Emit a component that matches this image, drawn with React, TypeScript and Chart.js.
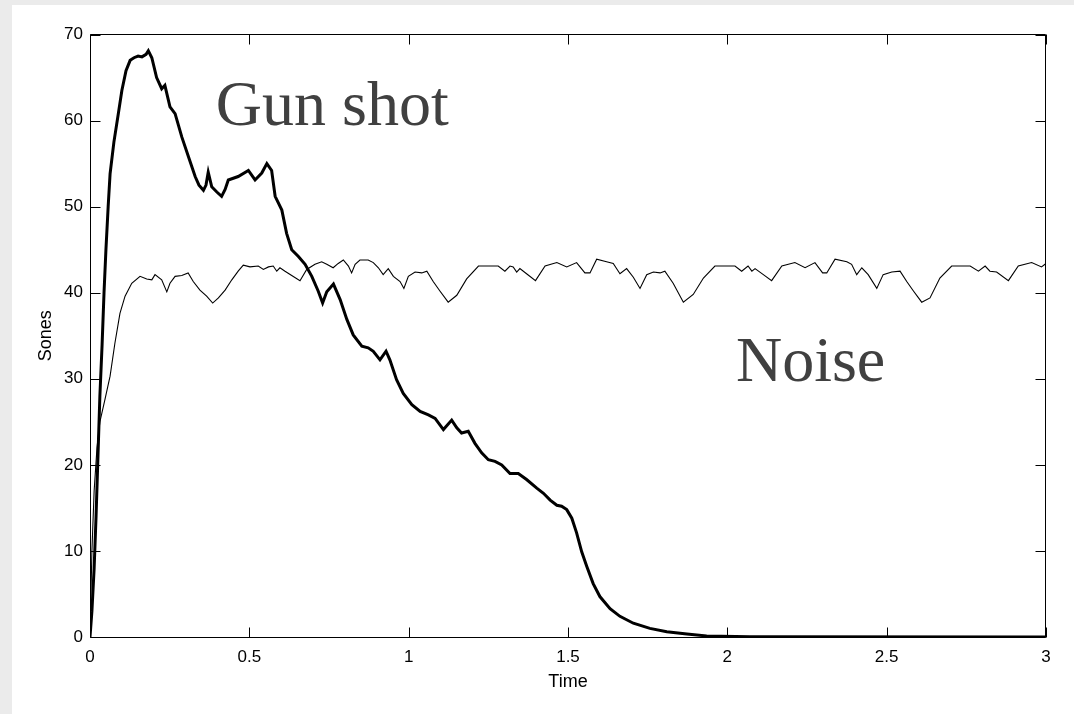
import React, { useEffect, useRef } from "react";
import { Chart, registerables } from "chart.js";

Chart.register(...registerables);

// ---- Data (time in seconds, loudness in sones) ----
const gunTime = [
  0, 0.006, 0.013, 0.019, 0.025, 0.031, 0.038, 0.044, 0.050, 0.057, 0.063, 0.075, 0.088,
  0.100, 0.113, 0.126, 0.138, 0.151, 0.163, 0.176, 0.183, 0.194, 0.209, 0.225, 0.235,
  0.251, 0.267, 0.288, 0.309, 0.330, 0.342, 0.356, 0.364, 0.371, 0.382, 0.398, 0.413,
  0.424, 0.434, 0.465, 0.497, 0.518, 0.539, 0.555, 0.570, 0.581, 0.602, 0.617, 0.633,
  0.654, 0.675, 0.696, 0.716, 0.730, 0.743, 0.764, 0.785, 0.806, 0.826, 0.853, 0.873,
  0.889, 0.910, 0.929, 0.941, 0.962, 0.983, 1.010, 1.036, 1.062, 1.083, 1.109, 1.135,
  1.151, 1.166, 1.187, 1.208, 1.229, 1.250, 1.271, 1.292, 1.318, 1.344, 1.370, 1.402,
  1.423, 1.444, 1.465, 1.480, 1.496, 1.512, 1.527, 1.543, 1.559, 1.579, 1.600, 1.632,
  1.663, 1.705, 1.757, 1.810, 1.873, 1.935, 2.071, 3.0,
];
const gunSones = [
  0, 3, 8, 14, 21, 28, 34, 40, 45, 50, 53.8, 57.5, 60.6,
  63.5, 65.8, 67.0, 67.3, 67.5, 67.4, 67.7, 68.1, 67.3, 65.0, 63.7, 64.1,
  61.6, 60.8, 58.1, 55.8, 53.5, 52.5, 51.9, 52.5, 54.0, 52.3, 51.7, 51.2,
  52.0, 53.1, 53.5, 54.2, 53.1, 53.9, 55.0, 54.2, 51.2, 49.6, 46.9, 45.0,
  44.2, 43.3, 41.9, 40.2, 38.8, 40.1, 41.0, 39.2, 36.9, 35.1, 33.8, 33.6,
  33.2, 32.2, 33.2, 32.2, 29.9, 28.3, 27.0, 26.2, 25.8, 25.4, 24.1, 25.2,
  24.3, 23.7, 23.9, 22.5, 21.4, 20.6, 20.4, 20.0, 19.0, 19.0, 18.3, 17.3,
  16.7, 15.9, 15.3, 15.2, 14.8, 13.8, 12.1, 9.9, 8.2, 6.2, 4.7, 3.3,
  2.4, 1.6, 1.0, 0.6, 0.35, 0.12, 0.02, 0,
];

const noiseTime = [
  0, 0.006, 0.013, 0.022, 0.031, 0.047, 0.063, 0.078, 0.094, 0.110, 0.131, 0.157,
  0.178, 0.194, 0.204, 0.225, 0.241, 0.251, 0.267, 0.288, 0.308, 0.324, 0.345, 0.366,
  0.385, 0.403, 0.424, 0.445, 0.465, 0.481, 0.502, 0.528, 0.544, 0.560, 0.575, 0.586,
  0.596, 0.612, 0.633, 0.659, 0.680, 0.706, 0.727, 0.743, 0.763, 0.779, 0.795, 0.811,
  0.821, 0.832, 0.847, 0.873, 0.889, 0.905, 0.920, 0.936, 0.952, 0.973, 0.985, 0.999,
  1.020, 1.041, 1.057, 1.077, 1.098, 1.124, 1.151, 1.182, 1.219, 1.245, 1.281, 1.302,
  1.318, 1.328, 1.339, 1.349, 1.370, 1.398, 1.428, 1.465, 1.496, 1.527, 1.553, 1.569,
  1.590, 1.621, 1.642, 1.663, 1.684, 1.705, 1.726, 1.747, 1.768, 1.789, 1.804, 1.830,
  1.862, 1.893, 1.925, 1.961, 1.987, 2.024, 2.045, 2.065, 2.077, 2.087, 2.113, 2.139,
  2.171, 2.212, 2.244, 2.275, 2.299, 2.312, 2.338, 2.375, 2.390, 2.406, 2.422, 2.442,
  2.469, 2.489, 2.516, 2.542, 2.563, 2.584, 2.610, 2.636, 2.667, 2.704, 2.730, 2.762,
  2.788, 2.809, 2.824, 2.845, 2.882, 2.913, 2.955, 2.986, 3.0,
];
const noiseSones = [
  0, 10, 17, 22, 25, 27.6, 30.3, 34.1, 37.6, 39.6, 41.1, 41.9,
  41.6, 41.5, 42.1, 41.5, 40.1, 41.1, 41.9, 42.0, 42.3, 41.3, 40.3, 39.6,
  38.8, 39.4, 40.3, 41.5, 42.5, 43.2, 43.0, 43.1, 42.7, 43.0, 43.1, 42.5,
  42.9, 42.5, 42.0, 41.4, 42.7, 43.3, 43.6, 43.3, 42.9, 43.4, 43.8, 43.1,
  42.3, 43.3, 43.8, 43.8, 43.5, 42.9, 42.1, 42.8, 41.9, 41.3, 40.5, 41.9,
  42.4, 42.3, 42.5, 41.3, 40.2, 38.9, 39.7, 41.6, 43.1, 43.1, 43.1, 42.5,
  43.1, 43.0, 42.4, 42.8, 42.2, 41.4, 43.1, 43.5, 43.0, 43.5, 42.3, 42.3,
  43.9, 43.6, 43.4, 42.2, 42.8, 41.8, 40.5, 42.1, 42.4, 42.3, 42.5, 41.1,
  38.9, 39.8, 41.7, 43.1, 43.1, 43.1, 42.5, 43.1, 42.5, 42.8, 42.1, 41.4,
  43.1, 43.5, 42.9, 43.5, 42.3, 42.3, 43.9, 43.6, 43.3, 42.1, 42.9, 42.1,
  40.5, 42.1, 42.4, 42.5, 41.3, 40.2, 38.9, 39.4, 41.7, 43.1, 43.1, 43.1,
  42.5, 43.1, 42.5, 42.4, 41.4, 43.1, 43.5, 43.0, 43.4,
];

const xTickValues = [0, 0.5, 1, 1.5, 2, 2.5, 3];
const yTickValues = [0, 10, 20, 30, 40, 50, 60, 70];
const xTitle = "Time";
const yTitle = "Sones";
const noteTexts = ["Gun shot", "Noise"];
const noteTimes = [0.395, 2.027];
const noteSones = [59.5, 29.8];

const frameAndNotes = {
  id: "frameAndNotes",
  afterDatasetsDraw(chart: any) {
    const { ctx, chartArea, scales } = chart;
    const xs = scales.x;
    const ys = scales.y;
    const L = Math.floor(chartArea.left) + 0.5;
    const T = Math.floor(chartArea.top) + 0.5;
    const R = Math.floor(chartArea.right) - 0.5;
    const B = Math.floor(chartArea.bottom) + 0.5;
    ctx.save();
    ctx.strokeStyle = "#000";
    ctx.lineWidth = 1;
    ctx.beginPath();
    ctx.rect(L, T, R - L, B - T);
    const tl = 10;
    xTickValues.forEach((v) => {
      const p = Math.round(xs.getPixelForValue(v)) + 0.5;
      ctx.moveTo(p, B);
      ctx.lineTo(p, B - tl);
      ctx.moveTo(p, T);
      ctx.lineTo(p, T + tl);
    });
    yTickValues.forEach((v) => {
      const p = Math.round(ys.getPixelForValue(v)) + 0.5;
      ctx.moveTo(L, p);
      ctx.lineTo(L + tl, p);
      ctx.moveTo(R, p);
      ctx.lineTo(R - tl, p);
    });
    ctx.stroke();

    ctx.fillStyle = "#404040";
    ctx.font = '64px "Liberation Serif", "Times New Roman", serif';
    ctx.textAlign = "left";
    ctx.textBaseline = "alphabetic";
    noteTexts.forEach((t, i) => {
      ctx.fillText(t, xs.getPixelForValue(noteTimes[i]), ys.getPixelForValue(noteSones[i]));
    });
    ctx.restore();
  },
};

export default function App() {
  const ref = useRef<HTMLCanvasElement>(null);
  useEffect(() => {
    if (!ref.current) return;
    const family = '"Liberation Sans", Arial, sans-serif';
    const tickFont = { family, size: 17 };
    const chart = new Chart(ref.current, {
      type: "line",
      data: {
        datasets: [
          {
            label: "Noise",
            data: noiseTime.map((t, i) => ({ x: t, y: noiseSones[i] })),
            borderColor: "#000",
            borderWidth: 1.1,
            pointRadius: 0,
            tension: 0,
            fill: false,
          },
          {
            label: "Gun shot",
            data: gunTime.map((t, i) => ({ x: t, y: gunSones[i] })),
            borderColor: "#000",
            borderWidth: 3,
            pointRadius: 0,
            tension: 0,
            fill: false,
          },
        ],
      },
      options: {
        responsive: false,
        animation: false,
        devicePixelRatio: 1,
        layout: { padding: { left: 0, top: 29.5, right: 28, bottom: 0 } },
        plugins: { legend: { display: false }, tooltip: { enabled: false } },
        scales: {
          x: {
            type: "linear",
            min: 0,
            max: 3,
            afterBuildTicks: (s: any) => {
              s.ticks = xTickValues.map((v) => ({ value: v }));
            },
            afterFit: (s: any) => {
              s.height = 77;
            },
            grid: { display: false, drawTicks: false },
            border: { display: false },
            ticks: {
              color: "#000",
              font: tickFont,
              padding: 10,
              maxRotation: 0,
              autoSkip: false,
              callback: (v: any) => String(v),
            },
            title: {
              display: true,
              text: xTitle,
              color: "#000",
              font: { family, size: 18 },
              padding: { top: 0, bottom: 21 },
            },
          },
          y: {
            type: "linear",
            min: 0,
            max: 70,
            afterBuildTicks: (s: any) => {
              s.ticks = yTickValues.map((v) => ({ value: v }));
            },
            afterFit: (s: any) => {
              s.width = 78;
            },
            grid: { display: false, drawTicks: false },
            border: { display: false },
            ticks: {
              color: "#000",
              font: tickFont,
              padding: 7,
              autoSkip: false,
              callback: (v: any) => String(v),
            },
            title: {
              display: true,
              text: yTitle,
              color: "#000",
              font: { family, size: 18 },
              padding: { top: 23, bottom: 0 },
            },
          },
        },
      },
      plugins: [frameAndNotes],
    });
    return () => chart.destroy();
  }, []);

  return (
    <div style={{ position: "fixed", left: 0, top: 0, width: 1074, height: 714, background: "#ebebeb" }}>
      <div style={{ position: "absolute", left: 12, top: 5, width: 1062, height: 709, background: "#fff" }}>
        <canvas ref={ref} width={1062} height={709} style={{ display: "block" }} />
      </div>
    </div>
  );
}
